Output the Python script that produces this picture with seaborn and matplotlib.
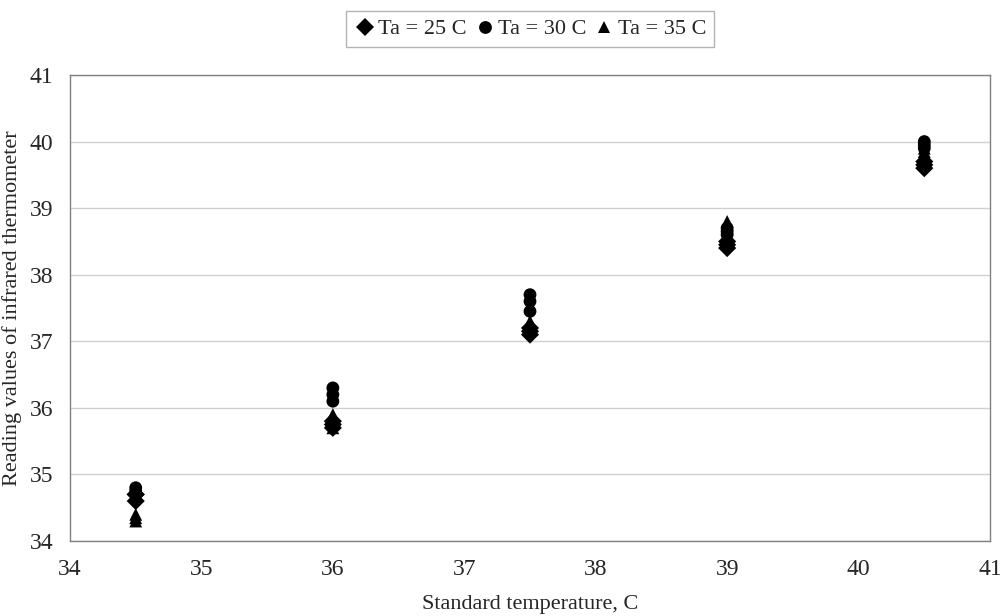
import matplotlib
matplotlib.use("Agg")
import matplotlib.pyplot as plt
import seaborn as sns
import pandas as pd

std_temp = [34.5, 34.5, 34.5, 36.0, 36.0, 36.0, 37.5, 37.5, 37.5, 39.0, 39.0, 39.0, 40.5, 40.5, 40.5]
ta25 = [34.6, 34.7, 34.7, 35.7, 35.75, 35.8, 37.1, 37.15, 37.2, 38.4, 38.45, 38.5, 39.6, 39.65, 39.7]
ta30 = [34.7, 34.75, 34.8, 36.1, 36.2, 36.3, 37.45, 37.6, 37.7, 38.6, 38.65, 38.7, 39.9, 39.95, 40.0]
ta35 = [34.3, 34.35, 34.4, 35.7, 35.8, 35.9, 37.2, 37.25, 37.3, 38.7, 38.75, 38.8, 39.8, 39.85, 39.9]
labels = ["Ta = 25 C", "Ta = 30 C", "Ta = 35 C"]

rows = []
for lab, vals in zip(labels, [ta25, ta30, ta35]):
    for x, y in zip(std_temp, vals):
        rows.append({"x": x, "y": y, "series": lab})
df = pd.DataFrame(rows)

sns.set_theme(style="white")
plt.rcParams['font.family'] = ['Liberation Serif', 'DejaVu Serif']

fig = plt.figure(figsize=(10, 6.16), dpi=100)
ax = fig.add_axes([0.070, 1 - 541/616, 0.920, (541-75)/616])

sns.scatterplot(data=df, x="x", y="y", hue="series", style="series",
                markers={"Ta = 25 C": "D", "Ta = 30 C": "o", "Ta = 35 C": "^"},
                palette={l: "black" for l in labels}, s=85, edgecolor="black",
                linewidth=0, ax=ax, zorder=3)
ax.set_xlim(34, 41)
ax.set_ylim(34, 41)
ax.set_xticks(range(34, 42))
ax.set_yticks(range(34, 42))
ax.grid(axis="y", color="#d0d0d0", linewidth=1)
ax.set_axisbelow(True)
for sp in ax.spines.values():
    sp.set_color("#808080")
    sp.set_linewidth(1)
ax.tick_params(axis="both", direction="in", length=5, color="#808080", labelsize=17)
ax.tick_params(axis="x", pad=13)
ax.tick_params(axis="y", pad=12)
ax.set_xlabel("")
ax.set_ylabel("")
fig.text(0.53, (616-605)/616, "Standard temperature, C", fontsize=16,
         ha="center", va="center")
fig.text(12/1000, 1 - 308/616, "Reading values of infrared thermometer", fontsize=16,
         rotation=90, ha="center", va="center")

h, l = ax.get_legend_handles_labels()
if ax.get_legend():
    ax.get_legend().remove()
leg = fig.legend(h, l, loc="upper center", bbox_to_anchor=(0.53, 1.0), ncol=3,
                 frameon=True, fontsize=16, handletextpad=0.1, columnspacing=0.3,
                 borderpad=0.35, fancybox=False, markerscale=1.0, handlelength=1.0)
leg.get_frame().set_edgecolor("#a0a0a0")

fig.savefig("out.png", dpi=100, facecolor="white")
